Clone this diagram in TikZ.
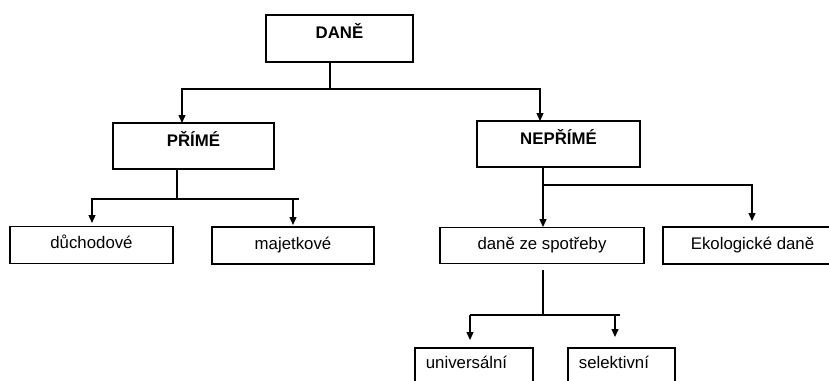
\documentclass[tikz,border=0pt]{standalone}
\usepackage{fontspec}
\setmainfont{Liberation Sans}
\usetikzlibrary {arrows.meta, positioning, calc}
\newcommand\boxfont{\fontsize{16.8}{20}\selectfont}
\tikzset{
    >={Triangle[length=8pt, width=7pt]},
    box/.style={draw, line width=1.8pt, inner sep=0pt},
    headbox/.style={box, font=\boxfont\bfseries, text height=12pt, text depth=12pt},
    leafbox/.style={box, text height=12pt, text depth=4.5pt},
    openbox/.style={box, anchor=north west, align=left, inner xsep=11pt,
        inner ysep=9pt, text height=12pt, text depth=20pt},
    link/.style={line width=1.3pt}
}

\begin{document}
\begin{tikzpicture}[x=1pt, y=-1pt, font=\boxfont]
    \useasboundingbox (0,0) rectangle (829,380);
    \clip (0,0) rectangle (829,380);
    % boxes
    \node[headbox, minimum width=147pt, minimum height=47pt] (dane) at (339.5,38.5) {DANĚ};
    \node[headbox, minimum width=161pt, minimum height=46pt] (prime) at (193.5,146) {PŘÍMÉ};
    \node[headbox, minimum width=163pt, minimum height=46pt] (neprime) at (558.5,144) {NEPŘÍMÉ};
    \node[leafbox, minimum width=163pt, minimum height=37pt] (duch) at (91.5,245) {důchodové};
    \node[leafbox, minimum width=162pt, minimum height=37pt] (majet) at (293,245.5) {majetkové};
    \node[leafbox, minimum width=204pt, minimum height=36pt] (spotr) at (542,245.5) {daně ze spotřeby};
    \node[leafbox, minimum width=179pt, minimum height=37pt] (ekol) at (752.5,245.5) {Ekologické daně};
    \node[openbox, text width=96pt] (univ) at (414,347) {universální};
    \node[openbox, text width=85pt] (selek) at (567,347) {selektivní};
    % junctions and arrow ends
    \coordinate (b0) at (330,89);
    \coordinate (b1) at (177,199);
    \coordinate (b1r) at (299,199);
    \coordinate (b2) at (543,185);
    \coordinate (s0) at (543,270);
    \coordinate (b3) at (543,315);
    \coordinate (b3l) at (470,315);
    \coordinate (b3r) at (620,315);
    \coordinate (pa) at (182,123);
    \coordinate (na) at (540,121);
    \coordinate (da) at (92,223);
    \coordinate (ma) at (293,225);
    \coordinate (sa) at (543,227);
    \coordinate (ea) at (752,221);
    \coordinate (ua) at (470,340);
    \coordinate (ka) at (615,337);
    % connectors
    \draw[link] (dane.south -| b0) -- (b0);
    \draw[link, ->] (b0) -| (pa);
    \draw[link, ->] (b0) -| (na);
    \draw[link] (prime.south -| b1) -- (b1);
    \draw[link, ->] (b1) -| (da);
    \draw[link] (b1) -- (b1r);
    \draw[link, ->] (ma |- b1) -- (ma);
    \draw[link] (neprime.south -| b2) -- (b2);
    \draw[link, ->] (b2) -| (ea);
    \draw[link, ->] (b2) -- (sa);
    \draw[link] (s0) -- (b3);
    \draw[link] (b3l) -- (b3r);
    \draw[link, ->] (b3l) -- (ua);
    \draw[link, ->] (ka |- b3) -- (ka);
\end{tikzpicture}
\end{document}
